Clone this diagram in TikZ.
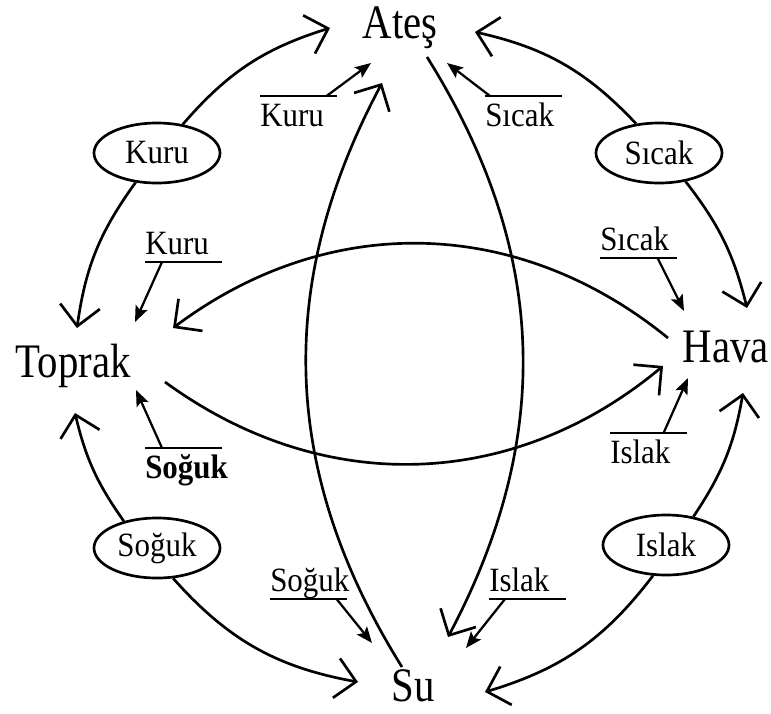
\documentclass[tikz,border=0pt]{standalone}
\usepackage{fontspec}
\setmainfont{Liberation Serif}
\usetikzlibrary{arrows.meta,shapes.geometric}

\newcommand{\tallt}[1]{\scalebox{1}[1.18]{#1}}
\newcommand{\talls}[1]{\scalebox{1}[1.1]{#1}}

\begin{document}
\begin{tikzpicture}[
    x=0.025cm, y=-0.025cm,
    elem/.style={font=\fontsize{29}{32}\selectfont, inner sep=0pt, anchor=base},
    quality/.style={draw, ellipse, line width=1.9pt, minimum width=3.15cm, minimum height=1.5cm, inner sep=0pt, font=\fontsize{22}{24}\selectfont},
    lab/.style={font=\fontsize{22}{24}\selectfont, inner sep=0pt, text width=1.9cm, align=left, text height=0.75cm, text depth=0.175cm},
    bar/.style={line width=1.9pt},
    cyc/.style={-{Straight Barb[length=0.5cm, width=1.0cm]}, line width=1.9pt},
    pull/.style={-{Stealth[length=0.4cm, width=0.32cm, inset=0.08cm]}, line width=1.6pt},
  ]
  \useasboundingbox (0,0) rectangle (771,713);

  % Elements
  \node[elem] (ates)   at (400,38)  {\tallt{Ateş}};
  \node[elem] (toprak) at (73,377)  {\tallt{Toprak}};
  \node[elem] (hava)   at (726,362) {\tallt{Hava}};
  \node[elem] (su)     at (413,701) {\tallt{Su}};

  % Qualities
  \node[quality] (qkuru)  at (157,153) {\talls{Kuru}};
  \node[quality] (qsicak) at (659,153) {\talls{Sıcak}};
  \node[quality] (qsoguk) at (157,548) {\talls{Soğuk}};
  \node[quality] (qislak) at (666,545) {\talls{Islak}};

  % Arrow ends near the elements
  \coordinate (a1) at (330,28);
  \coordinate (a2) at (475,32);
  \coordinate (a3) at (371,63);
  \coordinate (a4) at (447,63);
  \coordinate (a5) at (382,83);
  \coordinate (a6) at (427,57);

  \coordinate (t1) at (77,328);
  \coordinate (t2) at (75,413);
  \coordinate (t3) at (135,322);
  \coordinate (t4) at (136,390);
  \coordinate (t5) at (173,328);
  \coordinate (t6) at (165,382);

  \coordinate (h1) at (747,308);
  \coordinate (h2) at (743,393);
  \coordinate (h3) at (684,311);
  \coordinate (h4) at (688,378);
  \coordinate (h5) at (663,366);
  \coordinate (h6) at (668,338);

  \coordinate (s1) at (358,682);
  \coordinate (s2) at (485,692);
  \coordinate (s3) at (372,643);
  \coordinate (s4) at (466,648);
  \coordinate (s5) at (448,637);
  \coordinate (s6) at (402,667);

  % Outer circle
  \draw[cyc] (qkuru.48)   to[bend left=16]  (a1);
  \draw[cyc] (qkuru.234)  to[bend right=14] (t1);
  \draw[cyc] (qsicak.128) to[bend right=17] (a2);
  \draw[cyc] (qsicak.313) to[bend left=12]  (h1);
  \draw[cyc] (qsoguk.141) to[bend left=11]  (t2);
  \draw[cyc] (qsoguk.298) to[bend right=19] (s1);
  \draw[cyc] (qislak.46)  to[bend right=12] (h2);
  \draw[cyc] (qislak.247) to[bend left=18]  (s2);

  % Inner arcs
  \draw[cyc] (h6) to[bend right=38] (t5);
  \draw[cyc] (t6) to[bend right=38] (h5);
  \draw[cyc] (s6) to[bend left=30]  (a5);
  \draw[cyc] (a6) to[bend left=30]  (s5);

  % Bar labels
  \node[lab, anchor=north west] (kuruT)  at (260,96)  {\talls{Kuru}};
  \node[lab, anchor=north west] (sicakT) at (485,96)  {\talls{Sıcak}};
  \node[lab, anchor=south west] (kuruL)  at (145,262) {\talls{Kuru}};
  \node[lab, anchor=north west] (sogukL) at (145,448) {\talls{\bfseries Soğuk}};
  \node[lab, anchor=south west] (sicakR) at (600,258) {\talls{Sıcak}};
  \node[lab, anchor=north west] (islakR) at (610,433) {\talls{Islak}};
  \node[lab, anchor=south west] (sogukB) at (270,599) {\talls{Soğuk}};
  \node[lab, anchor=south west] (islakB) at (489,599) {\talls{Islak}};

  \draw[bar] (kuruT.north west)  -- (kuruT.north east);
  \draw[bar] (sicakT.north west) -- (sicakT.north east);
  \draw[bar] (kuruL.south west)  -- (kuruL.south east);
  \draw[bar] (sogukL.north west) -- (sogukL.north east);
  \draw[bar] (sicakR.south west) -- (sicakR.south east);
  \draw[bar] (islakR.north west) -- (islakR.north east);
  \draw[bar] (sogukB.south west) -- (sogukB.south east);
  \draw[bar] (islakB.south west) -- (islakB.south east);

  \draw[pull] ([xshift=-0.25cm]kuruT.north east)  -- (a3);
  \draw[pull] ([xshift=0.125cm]sicakT.north west) -- (a4);
  \draw[pull] ([xshift=0.425cm]kuruL.south west)  -- (t3);
  \draw[pull] ([xshift=0.425cm]sogukL.north west) -- (t4);
  \draw[pull] ([xshift=-0.475cm]sicakR.south east) -- (h3);
  \draw[pull] ([xshift=-0.575cm]islakR.north east) -- (h4);
  \draw[pull] ([xshift=-0.25cm]sogukB.south east) -- (s3);
  \draw[pull] ([xshift=0.4cm]islakB.south west)   -- (s4);
\end{tikzpicture}
\end{document}
